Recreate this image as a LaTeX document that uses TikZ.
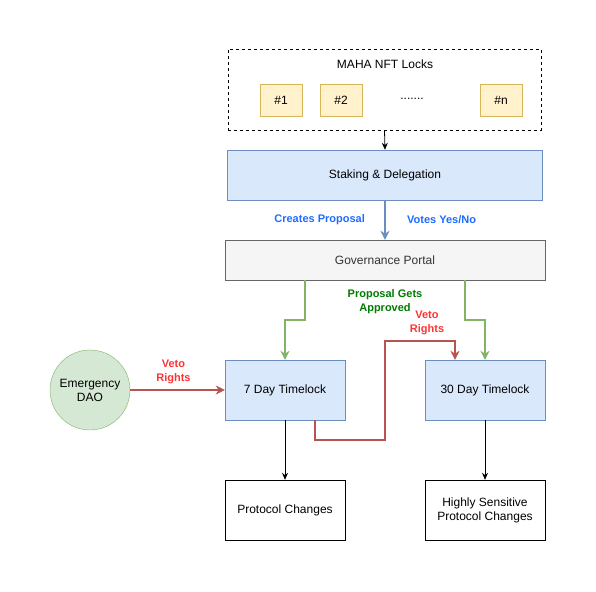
\documentclass[tikz,border=0pt]{standalone}
\usepackage{fontspec}
\setmainfont{Liberation Sans}
\usepackage{xcolor}
\usepackage{tikz}
\usetikzlibrary{arrows.meta}
\definecolor{blueFill}{HTML}{DAE8FC}
\definecolor{blueLine}{HTML}{6C8EBF}
\definecolor{yellowFill}{HTML}{FFF2CC}
\definecolor{yellowLine}{HTML}{D6B656}
\definecolor{greyFill}{HTML}{F5F5F5}
\definecolor{greyLine}{HTML}{666666}
\definecolor{greenFill}{HTML}{D5E8D4}
\definecolor{greenLine}{HTML}{82B366}
\definecolor{redLine}{HTML}{B85450}
\definecolor{blueText}{HTML}{1F6BFF}
\definecolor{greenText}{HTML}{007A00}
\definecolor{redText}{HTML}{FF3333}
\tikzset{
box/.style = {rectangle, draw=black, minimum width = #1, minimum height=60pt,
              inner sep=2pt, align=center, font=\fontsize{12}{14}\selectfont},
box/.default = 120pt % width of the box
}
\tikzset{
timelock/.style = {box, fill=blueFill, draw=blueLine},
lock/.style = {rectangle, fill=yellowFill, draw=yellowLine, minimum width=42pt,
               minimum height=32pt, font=\fontsize{12}{14}\selectfont}
}
\tikzset{
edgetext/.style = {font=\bfseries\fontsize{11}{14}\selectfont, align=center},
blackarrow/.style = {draw=black, line width=0.8pt, -{Stealth[length=7pt,width=6pt]}},
bluearrow/.style = {draw=blueLine, line width=1.6pt, -{Stealth[length=9pt,width=9pt]}},
greenarrow/.style = {draw=greenLine, line width=1.6pt, -{Stealth[length=9pt,width=9pt]}},
redarrow/.style = {draw=redLine, line width=1.6pt, -{Stealth[length=9pt,width=9pt]}}
}

\begin{document}
\begin{tikzpicture}[x=1pt, y=-1pt]
\useasboundingbox (0,0) rectangle (596,591);

\node[rectangle, draw=black, dashed, minimum width=313pt, minimum height=81pt] (nftLocks) at (384.5,89.5) {};
\node[font=\fontsize{12}{14}\selectfont] (nftTitle) at (385,64) {MAHA NFT Locks};
\node[lock] (lockOne) at (281,100) {\#1};
\node[lock] (lockTwo) at (341,100) {\#2};
\node[font=\fontsize{12}{14}\selectfont] (lockDots) at (412,99) {.......};
\node[lock] (lockN) at (501,100) {\#n};
\node[box=315pt, minimum height=50pt, fill=blueFill, draw=blueLine] (staking) at (385,175) {Staking \& Delegation};
\node[box=320pt, minimum height=40pt, fill=greyFill, draw=greyLine, text=black!80] (portal) at (385,260) {Governance Portal};
\node[timelock] (sevenDay) at (285,390) {7 Day Timelock};
\node[timelock] (thirtyDay) at (485,390) {30 Day Timelock};
\node[circle, draw=greenLine, fill=greenFill, minimum size=80pt, inner sep=0pt, align=center,
      font=\fontsize{12}{14}\selectfont] (emergency) at (90,390) {Emergency\\DAO};
\node[box] (protocol) at (285,510) {Protocol Changes};
\node[box] (sensitive) at (485,510) {Highly Sensitive\\Protocol Changes};
\node[edgetext, text=greenText] (approved) at (385,302) {Proposal Gets\\Approved};

\draw[blackarrow] (nftLocks.south) -- (staking.north);
\draw[bluearrow] (staking.south) -- node[edgetext, text=blueText, left=16pt]{Creates Proposal}
  node[edgetext, text=blueText, right=18pt]{Votes Yes/No} (portal.north);
\draw[greenarrow] ([xshift=-80pt]portal.south) -- ++(0,40) -| (sevenDay.north);
\draw[greenarrow] ([xshift=80pt]portal.south) -- ++(0,40) -| (thirtyDay.north);
\draw[redarrow] (emergency) -- node[edgetext, text=redText, above=2pt, xshift=-4pt]{Veto\\Rights} (sevenDay);
\draw[redarrow] ([xshift=30pt]sevenDay.south) -- ++(0,20) -- ++(70,0) -- ++(0,-99)
  -| node[pos=0.3, edgetext, text=redText, above=2pt]{Veto\\Rights} ([xshift=-30pt]thirtyDay.north);
\draw[blackarrow] (sevenDay) -- (protocol);
\draw[blackarrow] (thirtyDay) -- (sensitive);
\end{tikzpicture}
\end{document}
